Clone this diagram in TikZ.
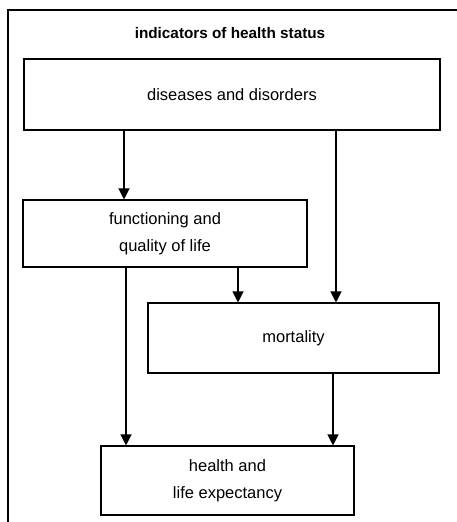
\documentclass[tikz,border=0pt]{standalone}
\usepackage{fontspec}
\setmainfont{Liberation Sans}
\usetikzlibrary{arrows.meta}
\begin{document}
\begin{tikzpicture}[x=1pt,y=-1pt,
  box/.style={draw,line width=1.1pt,minimum width=#1,align=center,
              font=\fontsize{16.5}{26.5}\selectfont,inner sep=0pt},
  arr/.style={draw,line width=1.2pt,-{Triangle[width=11pt,length=11pt]}},
  frame/.style={draw,line width=1.2pt}]
  \useasboundingbox (0,0) rectangle (457,522);
  % outer frame (left and top edges)
  \draw[frame] (8,522) -- (8,10) -- (457,10);
  % heading
  \node[font=\bfseries\fontsize{15.3}{18}\selectfont] (title) at (230,33) {indicators of health status};
  % boxes
  \node[box=416pt,minimum height=71pt] (dis) at (232,94.5) {diseases and disorders};
  \node[box=284pt,minimum height=67pt] (fun) at (165,233.5) {functioning and\\quality of life};
  \node[box=291pt,minimum height=70pt] (mor) at (293.5,338) {mortality};
  \node[box=253pt,minimum height=69pt] (hle) at (227.5,480.5) {health and\\life expectancy};
  % connector columns
  \coordinate (c1) at (124,0);
  \coordinate (c2) at (336,0);
  \coordinate (c3) at (126,0);
  \coordinate (c4) at (238,0);
  \coordinate (c5) at (333,0);
  % connectors
  \draw[arr] (c1 |- dis.south) -- (c1 |- fun.north);
  \draw[arr] (c2 |- dis.south) -- (c2 |- mor.north);
  \draw[arr] (c4 |- fun.south) -- (c4 |- mor.north);
  \draw[arr] (c3 |- fun.south) -- (c3 |- hle.north);
  \draw[arr] (c5 |- mor.south) -- (c5 |- hle.north);
\end{tikzpicture}
\end{document}
